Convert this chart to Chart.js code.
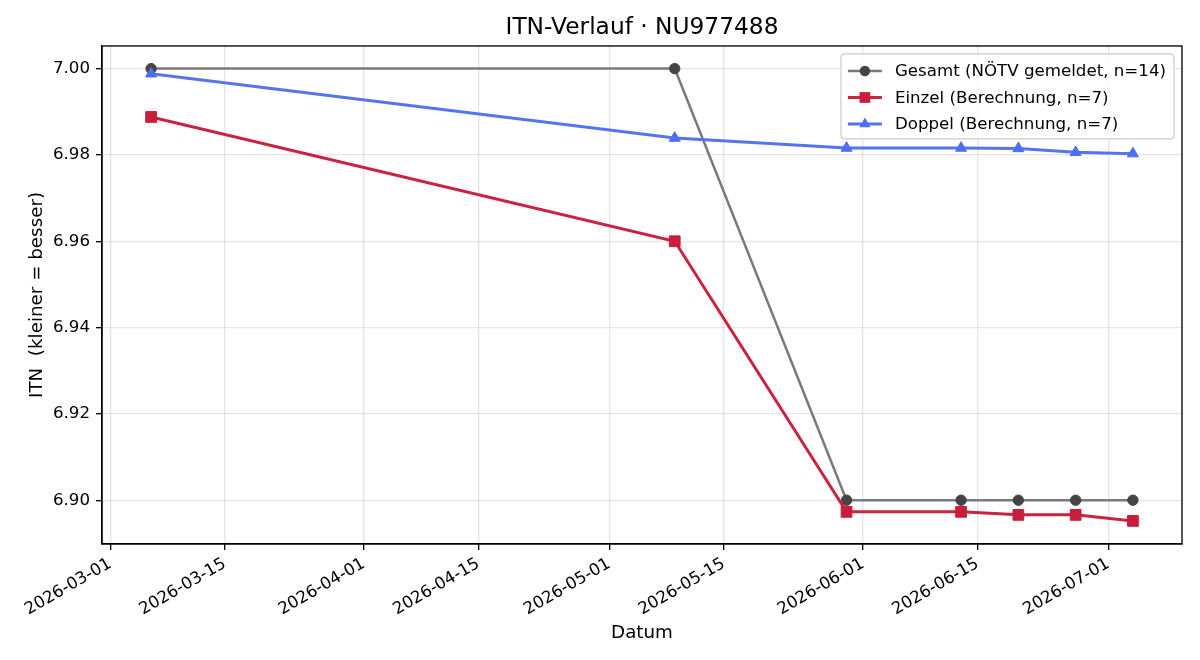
<!DOCTYPE html>
<html><head><meta charset="utf-8">
<script src="https://cdn.jsdelivr.net/npm/chart.js@4.4.1/dist/chart.umd.min.js"></script>
<style>html,body{margin:0;padding:0;background:#fff}#wrap{width:1200px;height:660px}</style>
</head><body>
<div id="wrap"><canvas id="c" width="1200" height="660"></canvas></div>
<script>
// ---- data ----
const dates = ['2026-03-06','2026-05-09','2026-05-30','2026-06-13','2026-06-20','2026-06-27','2026-07-04'];
const gesamt = [7.00, 7.00, 6.90, 6.90, 6.90, 6.90, 6.90];
const einzel = [6.9888, 6.9600, 6.8973, 6.8973, 6.8966, 6.8966, 6.8952];
const doppel = [6.9988, 6.9839, 6.9816, 6.9816, 6.9815, 6.9806, 6.9803];
const xTickLabels = ['2026-03-01','2026-03-15','2026-04-01','2026-04-15','2026-05-01','2026-05-15','2026-06-01','2026-06-15','2026-07-01'];
const yTickValues = [6.90, 6.92, 6.94, 6.96, 6.98, 7.00];
const seriesNames = ['Gesamt (NÖTV gemeldet, n=14)', 'Einzel (Berechnung, n=7)', 'Doppel (Berechnung, n=7)'];
const chartTitle = 'ITN-Verlauf · NU977488';
const xTitle = 'Datum';
const yTitle = 'ITN  (kleiner = besser)';

// ---- helpers ----
function toDay(s){ const p = s.split('-').map(Number); return Date.UTC(p[0], p[1]-1, p[2]) / 86400000; }
function pts(vals){ return dates.map((d,i)=>({x: toDay(d), y: vals[i]})); }

const FONT = 'DejaVu Sans';
const styles = [
  {line:'#7a7a7a', point:'#444444', width:2.5, shape:'circle', r:5.2},
  {line:'#c9233f', point:'#c81e3c', width:3, shape:'rect', r:7.6},
  {line:'#5575ee', point:'#4d6ff0', width:3, shape:'triangle', r:6.4}
];
const series = [gesamt, einzel, doppel];

const frameAndLegend = {
  id:'frameAndLegend',
  afterDraw(chart){
    const ctx = chart.ctx, a = chart.chartArea;
    ctx.save();
    ctx.strokeStyle = '#000'; ctx.lineWidth = 1.33;
    ctx.strokeRect(a.left, a.top, a.right - a.left, a.bottom - a.top);
    // legend
    const fs = 16.67;
    ctx.font = fs + 'px "' + FONT + '"';
    let maxW = 0; seriesNames.forEach(n => maxW = Math.max(maxW, ctx.measureText(n).width));
    const bx1 = a.right - 8, bx0 = bx1 - (54 + maxW + 8);
    const by0 = a.top + 8, by1 = by0 + 85;
    const rr = 4;
    ctx.beginPath();
    ctx.moveTo(bx0+rr, by0); ctx.lineTo(bx1-rr, by0); ctx.quadraticCurveTo(bx1, by0, bx1, by0+rr);
    ctx.lineTo(bx1, by1-rr); ctx.quadraticCurveTo(bx1, by1, bx1-rr, by1);
    ctx.lineTo(bx0+rr, by1); ctx.quadraticCurveTo(bx0, by1, bx0, by1-rr);
    ctx.lineTo(bx0, by0+rr); ctx.quadraticCurveTo(bx0, by0, bx0+rr, by0);
    ctx.closePath();
    ctx.fillStyle = 'rgba(255,255,255,0.85)'; ctx.fill();
    ctx.strokeStyle = '#cccccc'; ctx.lineWidth = 1.2; ctx.stroke();
    seriesNames.forEach((name, i) => {
      const s = styles[i];
      const cy = by0 + 17 + i * 26.5;
      const lx0 = bx0 + 7, lx1 = lx0 + 34, mx = (lx0 + lx1) / 2;
      ctx.strokeStyle = s.line; ctx.lineWidth = s.width;
      ctx.beginPath(); ctx.moveTo(lx0, cy); ctx.lineTo(lx1, cy); ctx.stroke();
      ctx.fillStyle = s.point;
      ctx.beginPath();
      if (s.shape === 'circle') { ctx.arc(mx, cy, s.r, 0, Math.PI*2); }
      else if (s.shape === 'rect') { const h = s.r*Math.SQRT1_2; ctx.rect(mx-h, cy-h, 2*h, 2*h); }
      else { const r = s.r; ctx.moveTo(mx, cy - r); ctx.lineTo(mx + r*0.866, cy + r*0.5); ctx.lineTo(mx - r*0.866, cy + r*0.5); ctx.closePath(); }
      ctx.fill();
      ctx.fillStyle = '#000'; ctx.textAlign = 'left'; ctx.textBaseline = 'middle';
      ctx.fillText(name, lx1 + 13, cy + 1);
    });
    ctx.restore();
  }
};

const datasets = series.map((vals, i) => ({
  label: seriesNames[i],
  data: pts(vals),
  borderColor: styles[i].line,
  borderWidth: styles[i].width,
  backgroundColor: styles[i].point,
  pointBackgroundColor: styles[i].point,
  pointBorderColor: styles[i].point,
  pointBorderWidth: 1,
  pointStyle: styles[i].shape,
  pointRadius: styles[i].r,
  pointHoverRadius: styles[i].r,
  tension: 0,
  fill: false,
  order: 3 - i
}));

new Chart(document.getElementById('c'), {
  type: 'line',
  data: { datasets },
  plugins: [frameAndLegend],
  options: {
    responsive: false,
    animation: false,
    devicePixelRatio: 1,
    layout: { padding: { top: 0, right: 18, bottom: 0, left: 0 } },
    plugins: {
      legend: { display: false },
      tooltip: { enabled: false },
      title: {
        display: true, text: chartTitle, fullSize: false, color: '#000',
        font: { family: FONT, size: 23.3, weight: 'normal', lineHeight: 1.2 },
        padding: { top: 14, bottom: 4 }
      }
    },
    scales: {
      x: {
        type: 'linear',
        min: toDay('2026-03-01') - 1,
        max: toDay('2026-03-01') + 131,
        afterBuildTicks: s => { s.ticks = xTickLabels.map(t => ({ value: toDay(t) })); },
        afterFit: s => { s.height = 116; },
        ticks: {
          autoSkip: false, minRotation: 30, maxRotation: 30, padding: 4, color: '#000',
          font: { family: FONT, size: 16.67 },
          callback: (v, i) => xTickLabels[i]
        },
        grid: { color: 'rgba(176,176,176,0.32)', lineWidth: 1.33, tickColor: '#000', tickLength: 6, tickWidth: 1.33 },
        border: { color: '#000', width: 1.33 },
        title: { display: true, text: xTitle, color: '#000', font: { family: FONT, size: 18.3, lineHeight: 1.2 }, padding: { top: 0, bottom: 16 } }
      },
      y: {
        type: 'linear',
        min: 6.88985,
        max: 7.00525,
        afterBuildTicks: s => { s.ticks = yTickValues.map(v => ({ value: v })); },
        afterFit: s => { s.width = 102; },
        ticks: {
          padding: 6, color: '#000',
          font: { family: FONT, size: 16.67 },
          callback: v => Number(v).toFixed(2)
        },
        grid: { color: 'rgba(176,176,176,0.32)', lineWidth: 1.33, tickColor: '#000', tickLength: 6, tickWidth: 1.33 },
        border: { color: '#000', width: 1.33 },
        title: { display: true, text: yTitle, color: '#000', font: { family: FONT, size: 18.3, lineHeight: 1.2 }, padding: { top: 26, bottom: 0 } }
      }
    }
  }
});
</script>
</body></html>
